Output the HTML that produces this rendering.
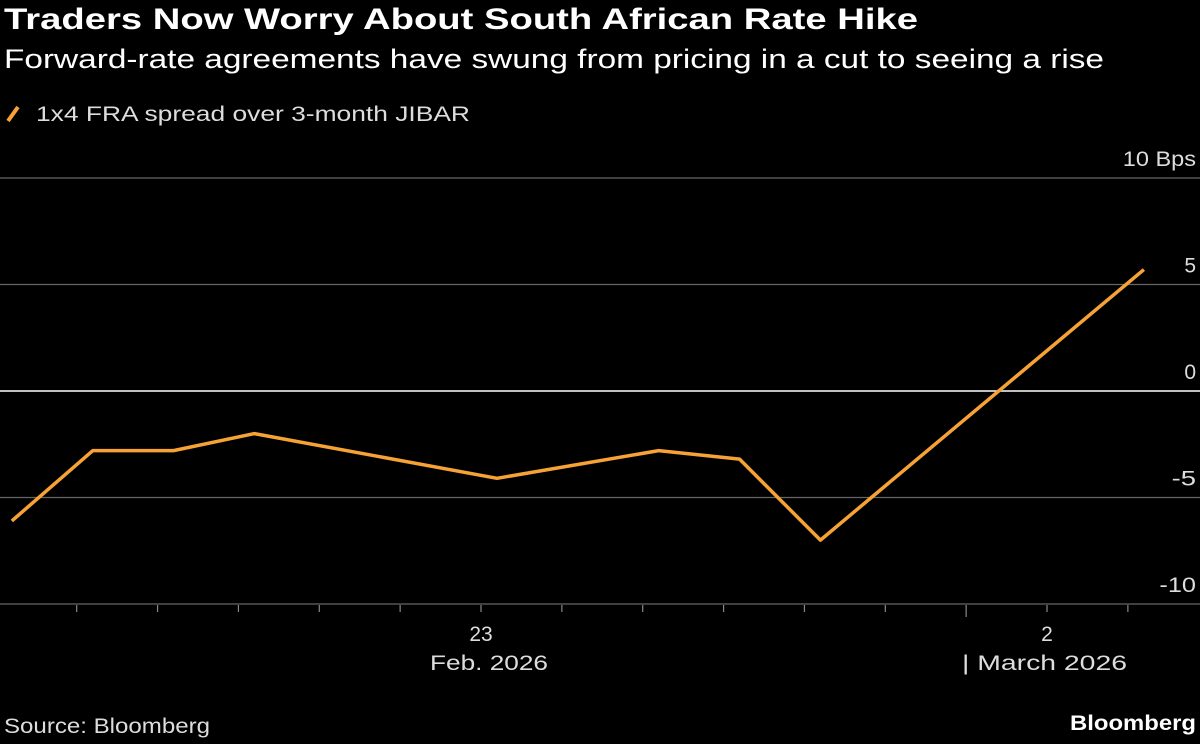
<!DOCTYPE html>
<html><head><meta charset="utf-8"><style>
body{margin:0;background:#000;width:1200px;height:739px;overflow:hidden;font-family:"Liberation Sans",sans-serif;color:#fff}
</style></head><body>
<svg id="c" width="1200" height="739" font-family="Liberation Sans, sans-serif">
<text x="4" y="29" font-size="30" font-weight="bold" fill="#fff" textLength="914" lengthAdjust="spacingAndGlyphs">Traders Now Worry About South African Rate Hike</text>
<text x="4" y="68" font-size="27" fill="#fff" textLength="1100" lengthAdjust="spacingAndGlyphs">Forward-rate agreements have swung from pricing in a cut to seeing a rise</text>
<g>
<line x1="8" y1="121" x2="18" y2="107" stroke="#f7a234" stroke-width="4"/>
<text x="36" y="121" font-size="21" fill="#ddd" textLength="434" lengthAdjust="spacingAndGlyphs">1x4 FRA spread over 3-month JIBAR</text>
</g>
<g id="grid"></g><g id="xax"></g>
<path id="line" fill="none" stroke="#f7a234" stroke-width="3.5" stroke-linejoin="round"/>
<text x="4" y="733" font-size="21" fill="#ddd" textLength="206" lengthAdjust="spacingAndGlyphs">Source: Bloomberg</text>
<text x="1196" y="730" font-size="21" font-weight="bold" text-anchor="end" fill="#fff" textLength="126" lengthAdjust="spacingAndGlyphs">Bloomberg</text>
</svg>
<script>
const dayOffsets=[0,1,2,3,6,8,9,10,14]; // days since Feb 17, 2026
const values=[-6.1,-2.8,-2.8,-2.0,-4.1,-2.8,-3.2,-7.0,5.7];
const yTicks=[10,5,0,-5,-10];
const yTickLabels=["10 Bps","5","0","-5","-10"];
const ns="http://www.w3.org/2000/svg";
const X=d=>497+(d-6)*80.86;
const Y=v=>391-v*21.3;
const grid=document.getElementById('grid'),xax=document.getElementById('xax');
function mk(p,tag,a){const e=document.createElementNS(ns,tag);for(const k in a)e.setAttribute(k,a[k]);p.appendChild(e);return e;}
yTicks.forEach((t,i)=>{
 const l=mk(grid,'line',{x1:0,x2:1200,y1:Y(t),y2:Y(t),stroke:t===0?'#fff':'#666','stroke-width':t===0?1.5:1.2});
 
 
 const s=yTickLabels[i];
 const a={x:1196,y:Y(t)-12,'font-size':21,fill:'#ddd','text-anchor':'end'};
 if(s.length>1){a.textLength=s.length*12.2;a.lengthAdjust='spacingAndGlyphs';}
 const tx=mk(grid,'text',a);
 tx.textContent=s;
 
 
});
for(let d=1;d<=14;d++){
 const x=X(d)-16,big=(d===12);
 const l=mk(xax,'line',{x1:x,x2:x,y1:605,y2:big?617:612,stroke:'#888','stroke-width':1.2});
 
 
}
[["23",X(6)-16,641,'middle',0],["2",X(13)-16,641,'middle',0],["Feb. 2026",489,670,'middle',118],["| March 2026",962,670,'start',165]].forEach(([s,x,y,anc,len])=>{
 const a={x:x,y:y,'font-size':21,fill:'#ddd','text-anchor':anc};
 if(len){a.textLength=len;a.lengthAdjust='spacingAndGlyphs';}
 const t=mk(xax,'text',a);
 t.textContent=s;
 
 
});
document.getElementById('line').setAttribute('d',dayOffsets.map((d,i)=>(i?'L':'M')+X(d)+','+Y(values[i])).join(' '));
</script>
</body></html>
